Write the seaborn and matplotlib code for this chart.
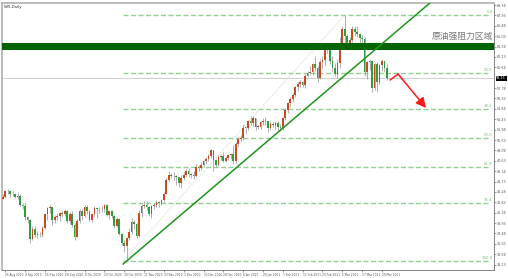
import numpy as np
import pandas as pd
import matplotlib
matplotlib.use("Agg")
import matplotlib.pyplot as plt
import seaborn as sns

sns.set_theme(style="white")
plt.rcParams['font.family'] = ['DejaVu Sans']

# ---------------- data ----------------
dates = pd.bdate_range("2020-08-24", "2021-03-31")
dates = dates[~dates.isin(pd.to_datetime(["2020-12-25", "2021-01-01"]))]

opens = [
    # Aug
    42.34, 42.62, 43.35, 43.39, 43.04, 42.97,
    # Sep
    42.61, 42.76, 41.51, 41.37, 39.77, 39.30, 36.76, 38.05, 37.30, 37.33, 37.26,
    38.28, 40.16, 40.97, 41.11, 39.31, 39.80, 39.93, 40.31, 40.25, 40.60, 39.29,
    # Oct
    40.22, 38.72, 37.05, 39.22, 40.67, 39.95, 41.19, 40.60, 39.43, 40.20, 41.04,
    40.96, 40.88, 40.83, 41.46, 40.03, 40.64, 39.85, 38.56, 39.57, 37.39, 36.17,
    # Nov
    35.79, 36.81, 37.66, 39.15, 38.79, 37.14, 40.29, 41.36, 41.45, 41.12, 40.13,
    41.34, 41.43, 41.82, 41.74, 42.15, 43.06, 44.91, 45.71, 45.50, 45.53,
    # Dec
    45.34, 44.55, 45.28, 45.64, 46.26, 45.76, 45.60, 45.52, 46.78, 46.57, 46.99,
    47.62, 47.82, 48.36, 49.10, 47.74, 47.02, 48.12, 48.23, 47.62, 48.00, 48.40,
    # Jan
    48.52, 47.62, 49.93, 50.63, 50.83, 52.24, 52.25, 53.21, 52.91, 53.57, 52.36,
    52.40, 52.98, 53.24, 53.13, 52.27, 52.77, 52.61, 52.85, 52.34,
    # Feb
    52.20, 53.55, 54.76, 55.69, 56.23, 56.85, 57.97, 58.36, 58.68, 58.24, 59.47,
    59.90, 60.05, 61.14, 60.52, 59.24, 61.49, 61.67, 63.22, 63.53,
    # Mar
    61.50, 60.64, 59.75, 61.28, 63.83, 66.09, 65.05, 64.01, 64.44, 66.02, 65.61,
    65.39, 64.80, 64.60, 60.00, 61.42, 61.55, 57.76, 61.18, 58.56, 60.97, 61.56, 60.55,
]
highs = [
    42.96, 43.50, 43.68, 43.58, 43.45, 43.20,
    43.25, 42.96, 41.74, 41.85, 39.90, 39.52, 38.46, 38.50, 37.85, 37.75, 38.50,
    40.38, 41.24, 41.45, 41.20, 40.10, 40.40, 40.50, 40.60, 40.95, 40.75, 40.45,
    40.55, 38.90, 39.45, 40.85, 40.95, 41.50, 41.40, 40.70, 40.40, 41.25, 41.10,
    41.20, 41.35, 41.60, 41.55, 40.80, 40.80, 40.00, 39.75, 39.70, 37.55, 36.50,
    37.00, 38.20, 39.60, 39.30, 38.90, 40.75, 41.60, 42.00, 42.00, 41.30, 41.50,
    41.70, 42.10, 42.05, 42.30, 43.25, 45.20, 46.26, 45.90, 46.00, 45.70,
    45.40, 45.60, 46.05, 46.50, 46.65, 45.95, 46.20, 47.25, 47.10, 47.50, 47.80,
    48.10, 48.60, 49.30, 49.20, 47.90, 48.40, 48.60, 48.90, 48.30, 48.60, 48.60,
    49.80, 50.20, 50.90, 51.25, 52.75, 52.40, 53.30, 53.90, 53.90, 53.60, 52.60,
    53.20, 53.60, 53.70, 53.20, 53.20, 53.10, 53.15, 53.20, 52.80,
    53.70, 55.00, 55.90, 56.50, 57.10, 58.10, 58.60, 58.90, 58.80, 59.80, 60.10,
    60.90, 61.30, 62.30, 60.80, 61.80, 62.20, 63.30, 63.80, 63.70,
    62.30, 61.30, 61.80, 64.90, 66.40, 67.98, 65.40, 64.90, 66.40, 66.40, 66.40,
    65.50, 65.20, 64.90, 61.60, 61.80, 61.60, 61.30, 61.40, 61.10, 61.90, 61.60, 61.20,
]
lows = [
    42.27, 42.45, 43.00, 42.63, 42.70, 42.40,
    42.25, 41.32, 40.85, 39.41, 38.95, 36.13, 36.50, 37.05, 36.90, 36.95, 36.95,
    38.10, 39.40, 40.40, 38.65, 38.95, 39.35, 39.20, 39.80, 39.85, 38.90, 38.75,
    38.40, 36.63, 36.95, 38.95, 39.40, 39.80, 40.20, 39.20, 39.15, 39.95, 39.70,
    40.40, 40.50, 40.45, 39.90, 39.50, 39.60, 38.25, 38.40, 37.20, 35.85, 34.95,
    33.64, 36.60, 37.40, 38.10, 36.90, 37.00, 39.80, 41.10, 40.80, 39.95, 39.70,
    40.90, 41.20, 41.20, 41.50, 41.90, 42.95, 44.80, 45.20, 44.90, 44.30,
    43.90, 43.80, 44.90, 45.30, 45.40, 45.20, 45.10, 45.40, 46.20, 46.40, 46.70,
    47.20, 47.60, 48.00, 46.20, 46.70, 46.90, 47.80, 47.40, 47.50, 47.80, 47.90,
    47.20, 47.30, 49.50, 50.40, 50.60, 51.30, 51.90, 52.60, 52.50, 51.90, 52.00,
    52.10, 52.60, 52.60, 51.70, 51.90, 52.30, 52.00, 51.80, 51.80,
    51.90, 53.30, 54.30, 55.20, 55.90, 56.60, 57.40, 57.90, 57.90, 57.80, 59.30,
    59.60, 59.60, 60.20, 58.60, 59.00, 60.60, 60.90, 62.70, 61.20,
    60.10, 59.50, 59.20, 60.60, 63.40, 63.80, 63.10, 63.20, 64.20, 65.00, 64.90,
    63.80, 63.90, 59.50, 59.10, 60.30, 57.30, 57.50, 57.30, 58.30, 60.20, 60.20, 58.90,
]
closes = [
    42.62, 43.35, 43.39, 43.04, 42.97, 42.61,
    42.76, 41.51, 41.37, 39.77, 39.30, 36.76, 38.05, 37.30, 37.33, 37.26, 38.28,
    40.16, 40.97, 41.11, 39.31, 39.80, 39.93, 40.31, 40.25, 40.60, 39.29, 40.22,
    38.72, 37.05, 39.22, 40.67, 39.95, 41.19, 40.60, 39.43, 40.20, 41.04, 40.96,
    40.88, 40.83, 41.46, 40.03, 40.64, 39.85, 38.56, 39.57, 37.39, 36.17, 35.79,
    36.81, 37.66, 39.15, 38.79, 37.14, 40.29, 41.36, 41.45, 41.12, 40.13, 41.34,
    41.43, 41.82, 41.74, 42.15, 43.06, 44.91, 45.71, 45.50, 45.53, 45.34,
    44.55, 45.28, 45.64, 46.26, 45.76, 45.60, 45.52, 46.78, 46.57, 46.99, 47.62,
    47.82, 48.36, 49.10, 47.74, 47.02, 48.12, 48.23, 47.62, 48.00, 48.40, 48.52,
    47.62, 49.93, 50.63, 50.83, 52.24, 52.25, 53.21, 52.91, 53.57, 52.36, 52.40,
    52.98, 53.24, 53.13, 52.27, 52.77, 52.61, 52.85, 52.34, 52.20,
    53.55, 54.76, 55.69, 56.23, 56.85, 57.97, 58.36, 58.68, 58.24, 59.47, 59.90,
    60.05, 61.14, 60.52, 59.24, 61.49, 61.67, 63.22, 63.53, 61.50,
    60.64, 59.75, 61.28, 63.83, 66.09, 65.05, 64.01, 64.44, 66.02, 65.61, 65.39,
    64.80, 64.60, 60.00, 61.42, 61.55, 57.76, 61.18, 58.56, 60.97, 61.56, 60.55, 59.16,
]

fib_low_date, fib_low = "2020-11-02", 33.64
fib_high_date, fib_high = "2021-03-08", 67.98
fib_levels = [0.0, 23.6, 38.2, 50.0, 61.8, 76.4, 100.0]
fib_labels = ["0.0", "23.6", "38.2", "50.0", "61.8", "76.4", "100.0"]

trend_dates = ["2020-11-02", "2021-03-08"]
trend_prices = [33.64, 59.55]

resist_low, resist_high = 63.10, 64.07
resist_text = "原油强阻力区域"

current_price = 59.16

arrow_idx = [156.3, 159.5, 170.8]
arrow_prices = [58.91, 59.74, 55.00]

ytick_vals = [69.38, 67.93, 66.48, 65.03, 63.58, 62.13, 60.68, 57.78, 56.33,
              54.88, 53.43, 51.98, 50.53, 49.08, 47.63, 46.18, 44.73, 43.28,
              41.83, 40.38, 38.93, 37.48, 36.03, 34.58, 33.13]

# ---------------- figure ----------------
W, H = 508, 278
fig = plt.figure(figsize=(W / 100, H / 100), dpi=100)
fig.patch.set_facecolor("white")
ax = fig.add_axes([2 / W, 8 / H, 492 / W, 267 / H])
ax.set_facecolor("white")

o = np.array(opens); h = np.array(highs); l = np.array(lows); c = np.array(closes)
n = len(c)
x = np.arange(n)
date_idx = {d.strftime("%Y-%m-%d"): i for i, d in enumerate(dates[:n])}

up = c >= o
UPC = "#c94a1e"
DNC = "#2f9e3c"
ax.vlines(x, l, h, color="#9a9a9a", lw=0.55, zorder=3)
body = np.maximum(np.abs(c - o), 0.06)
ax.bar(x[up], body[up], bottom=o[up], width=0.68, color=UPC, zorder=4, linewidth=0)
ax.bar(x[~up], body[~up], bottom=c[~up], width=0.68, color=DNC, zorder=4, linewidth=0)

# resistance band
ax.axhspan(resist_low, resist_high, color="#006400", zorder=5, lw=0)
ax.text(197.6, resist_high + 0.35, resist_text, ha="right", va="bottom",
        fontsize=6.3, color="#777777", family=["Noto Sans CJK SC", "DejaVu Sans"], zorder=6)

# current price line
ax.axhline(current_price, color="#c8c8c8", lw=0.6, zorder=1)

# fibonacci
i_lo = date_idx[fib_low_date]
i_hi = date_idx[fib_high_date]
fib_x0 = i_lo - 1.5
fib_x1 = 196.5
for lev, lab in zip(fib_levels, fib_labels):
    p = fib_high - (fib_high - fib_low) * lev / 100.0
    ax.hlines(p, fib_x0, fib_x1, colors="#93d193", lw=1.0,
              linestyles=(0, (3.6, 1.8)), zorder=2)
    ax.text(197.6, p + 0.1, lab, ha="right", va="bottom", fontsize=2.8,
            color="#7cc27c", zorder=6)
ax.plot([fib_x0, i_hi], [fib_low, fib_high], color="#bfe3bf", lw=0.7,
        ls=(0, (1, 1.2)), zorder=2)

# trend line
t_x = [date_idx[d] for d in trend_dates]
slope = (trend_prices[1] - trend_prices[0]) / (t_x[1] - t_x[0])
ext_x = [t_x[0] - 1.5, 190]
ext_y = [trend_prices[0] + slope * (xx - t_x[0]) for xx in ext_x]
sns.lineplot(x=ext_x, y=ext_y, ax=ax, color="#1f951f", lw=1.1, zorder=6)

# red arrow
ax.plot(arrow_idx[:2], arrow_prices[:2], color="#ff1a1a", lw=1.1, zorder=7)
ax.annotate("", xy=(arrow_idx[2], arrow_prices[2]),
            xytext=(arrow_idx[1], arrow_prices[1]),
            arrowprops=dict(arrowstyle="-|>,head_length=0.5,head_width=0.25",
                            color="#ff1a1a", lw=1.1, shrinkA=0, shrinkB=0), zorder=7)

# axes limits
ax.set_xlim(-0.3, 198.2)
ax.set_ylim(32.38, 69.66)

# x ticks every 8 bars
tick_idx = list(range(1, n, 8))
ax.set_xticks(tick_idx)
ax.set_xticklabels([dates[i].strftime("%-d %b %Y") for i in tick_idx],
                   fontsize=2.1, color="#555555", ha="left")
ax.tick_params(axis="x", length=1.5, width=0.4, pad=0.5, colors="#555555",
               direction="out", bottom=True)

# y ticks right
ax.yaxis.tick_right()
ax.set_yticks(ytick_vals)
ax.set_yticklabels([f"{v:.2f}" for v in ytick_vals], fontsize=2.4, color="#555555")
ax.tick_params(axis="y", length=1.5, width=0.4, pad=0.6, colors="#555555",
               direction="out", right=True, left=False)

ax.annotate(f"{current_price:.2f}", xy=(1.0, current_price),
            xycoords=("axes fraction", "data"), xytext=(1.6, 0),
            textcoords="offset points", fontsize=2.4, color="white",
            va="center", ha="left",
            bbox=dict(boxstyle="square,pad=0.2", fc="black", ec="black", lw=0))

for side in ["left", "top"]:
    ax.spines[side].set_color("#b0b0b0")
    ax.spines[side].set_linewidth(1.2)
for side in ["right", "bottom"]:
    ax.spines[side].set_color("#707070")
    ax.spines[side].set_linewidth(0.6)

ax.text(0.004, 0.992, "WTI,Daily", transform=ax.transAxes, fontsize=2.8,
        color="#333333", va="top", ha="left")
ax.set_xlabel(""); ax.set_ylabel("")
ax.grid(False)

fig.savefig("out.png", dpi=100, facecolor="white")
